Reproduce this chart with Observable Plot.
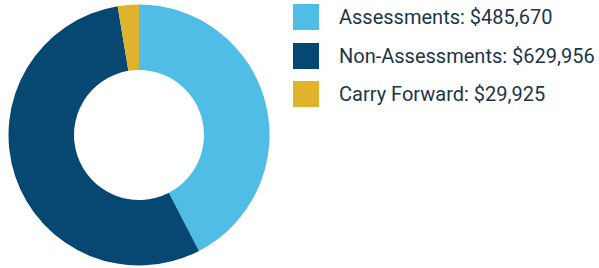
<!DOCTYPE html>
<html>
<head>
<meta charset="utf-8">
<script src="https://cdn.jsdelivr.net/npm/d3@7"></script>
<script src="https://cdn.jsdelivr.net/npm/@observablehq/plot@0.6"></script>
<style>
  html, body { margin: 0; padding: 0; background: #fff; }
  #wrap { position: relative; width: 599px; height: 268px; overflow: hidden; }
  #legend { position: absolute; left: 293px; top: 4px; font-family: Roboto, sans-serif; font-size: 20px; color: #1c3549; }
  .row { display: flex; align-items: center; height: 26px; margin-bottom: 12.5px; white-space: nowrap; }
  .sw { width: 26px; height: 26px; margin-right: 20px; flex: none; }
</style>
</head>
<body>
<div id="wrap">
  <div id="chart"></div>
  <div id="legend"></div>
</div>
<script>
const categories = ["Assessments", "Non-Assessments", "Carry Forward"];
const values = [485670, 629956, 29925];
const colors = ["#4fbde5", "#064872", "#dfb42c"];

const data = categories.map((c, i) => ({category: c, value: values[i]}));
const color = Plot.scale({color: {type: "ordinal", domain: categories, range: colors}});

const cx = 139, cy = 135, outerR = 130.5, innerR = 65;

const donut = (index, scales, vals, dimensions, context) => {
  const pie = d3.pie().sort(null).value(d => d.value)(data);
  const arc = d3.arc().innerRadius(innerR).outerRadius(outerR);
  const g = d3.create("svg:g").attr("transform", `translate(${cx},${cy})`);
  g.selectAll("path").data(pie).join("path")
    .attr("d", arc)
    .attr("fill", d => color.apply(d.data.category))
    .attr("stroke", "none");
  return g.node();
};

const chart = Plot.plot({
  width: 599,
  height: 268,
  margin: 0,
  style: {background: "transparent"},
  x: {axis: null},
  y: {axis: null},
  marks: [donut]
});
document.getElementById("chart").appendChild(chart);

const fmt = d3.format(",");
const legend = d3.select("#legend");
data.forEach(d => {
  const row = legend.append("div").attr("class", "row");
  row.append("div").attr("class", "sw").style("background", color.apply(d.category));
  row.append("span").text(`${d.category}: $${fmt(d.value)}`);
});
</script>
</body>
</html>
